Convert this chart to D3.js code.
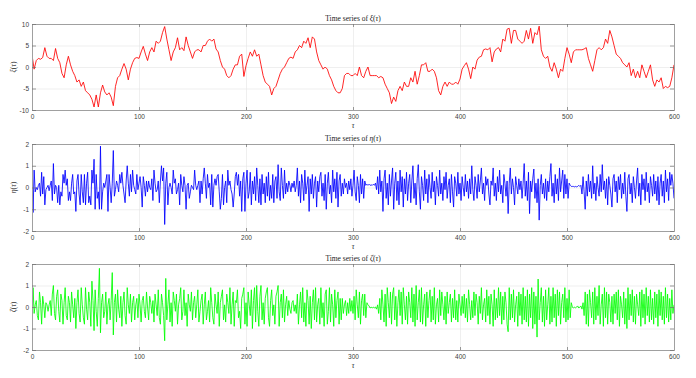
<!DOCTYPE html>
<html>
<head>
<meta charset="utf-8">
<script src="https://cdn.jsdelivr.net/npm/d3@7"></script>
<style>
  body { margin: 0; background: #fff; }
  #chart { width: 696px; height: 378px; }
  .tick text { font-family: "Liberation Sans", Arial, sans-serif; }
</style>
</head>
<body>
<div id="chart"></div>
<script>
// tau range and ticks
var TAU_MAX = 600;
var x_ticks = [0, 100, 200, 300, 400, 500, 600];

// xi(tau), sampled every 2
var xi_step = 2;
var xi = [
  2.8, -0.5, 1.5, 2, 1.8, 2.2, 4.5, 2.5, 2, 2,
  1.5, 4.3, 2, 1, -1.5, -2.5, 0.5, 2.5, 0.5, -1,
  -2, -3.5, -3, -4.5, -3.5, -5.5, -6, -6.5, -7.5, -9.3,
  -6.5, -9.3, -6, -4.2, -5.8, -6.5, -6, -7, -9, -4.5,
  -2.5, -2, -0.5, 0.8, -0.5, -3, -0.5, 1, 2, 2.2,
  2, 3.5, 4.8, 3, 1.5, 3.5, 4.5, 3.5, 6, 5.5,
  6, 8, 9.4, 6.5, 4, 1.5, 3.5, 4.5, 6.8, 4,
  4.5, 3.8, 7, 5, 3.5, 2, 3.5, 4, 4, 3.5,
  5, 5, 6, 6.5, 6, 6.5, 4.2, 3.5, 1.5, 0,
  -0.5, -2, -2.5, -2, -0.5, 0.5, 0.5, 2.5, 3, -2.2,
  0.3, 2, 3.5, 2.5, 4, 2.5, 3, 0.5, -2, -3.5,
  -4, -4.5, -6.5, -5, -4.5, -3, -1.5, -0.5, 0, 1,
  2, 2.3, 2, 3.5, 4, 5, 4.5, 6, 5.5, 6.8,
  4.5, 7, 6.5, 3.5, 1.5, 0.5, -0.5, 0, -0.5, -2,
  -3, -4.5, -5.5, -6, -6, -5, -2, -1.5, -1.5, -2,
  -2, -1.5, -2, 0, -2, -2.5, -1, 0, -2, -2,
  -2, -2, -2.5, -2.2, -2.5, -4, -5, -6, -8.5, -7,
  -8, -5.5, -4.5, -5.5, -3.5, -4.5, -4.5, -2.5, -3.5, -1,
  -4, -2, 0.5, 0.5, 1, -1, -1, -0.5, -1, -2.5,
  -5.5, -6.5, -4.5, -3.5, -4.5, -3.5, -4, -4, -3.5, -4,
  -2.8, -0.5, 0.3, 1, -0.5, -2.7, 0, -0.5, 1.6, 2.3,
  2.5, 4, 4.2, 4, 4.5, 1.2, 3.5, 4.2, 4.5, 3.5,
  6.5, 6, 8.8, 9, 5.5, 8.5, 8.5, 6.5, 6, 5.5,
  6, 8.5, 6.5, 9, 5.5, 8, 7.5, 9.5, 4, 2.5,
  2, 2.5, 0, -1, 1, -0.5, -2.5, -0.5, -1, 2,
  4.5, 3, 1, 3.5, 4, 4, 4, 4, 4.2, 4.5,
  2, 0.5, -1, 1.5, 4, 4.5, 4, 4.5, 6.5, 5.5,
  8.5, 7, 5, 3, 2.5, 2, 1, 0.5, 0, 1,
  -2, -0.5, -2.5, -1, -2.5, 0.5, -1, -2.5, -1, 0.5,
  -3, -4.5, -3, -3.5, -2.5, -5, -4.5, -4.8, -4.5, -2.5,
  0.5
];
var xi_ticks = [-10, -5, 0, 5, 10];

// eta(tau), sampled every 1
var eta_step = 1;
var eta = [
  0.9, -1.15, 0.8, -0.2, 0, -0.1, 0.1, 0.2, -0.4, 0.7, -0.3, 0.5, -0.8, -0.1, 0, 0.1, -0.15, 0.1, 0.3, -0.6,
  1.1, -0.3, 0.1, 0, -0.7, 0.1, -0.8, -0.2, -0.4, 0.6, 0.2, 0.8, 0.1, 0.4, -0.6, -0.2, -0.6, 0.2, 0.6, -0.3,
  -0.2, -1.1, 0.3, 0.6, -0.3, -0.8, 0.6, -0.2, -0.7, 0.6, -0.8, 0.2, 0.7, -0.7, -0.4, -0.8, 0.8, 0.2, 1.3, -1.0,
  0.6, -0.5, -0.2, -1.0, 1.9, -1.0, -0.2, 0.2, 0, 0.3, 0.6, -1.1, 0.6, 0, -0.7, 0.2, 1.7, -0.4, -0.1, 0.3,
  0.1, -0.2, 0.6, 0.2, 0.7, 0.1, -0.3, -0.7, 0.3, 1.0, 0.2, -0.4, 0.6, -0.2, 0.8, 0.1, -0.1, -0.3, 0.6, -0.1,
  0.2, 0.5, 0, -0.9, 0.5, 0.1, -0.4, 0.3, -0.2, 0.3, 0, -0.1, 0.4, -0.6, 0.8, 0.2, -0.2, -0.1, 0.3, -0.7,
  0.3, 1.0, 0.3, 0.9, -1.7, 0.2, 0.7, -0.8, 0, 0.2, 0, -0.3, 0.8, 0.2, 0.4, -0.3, -0.1, 0.2, -0.8, 0.6,
  0.1, -0.2, 0.5, 0.1, -1.0, 0.1, 0.2, -0.5, -0.2, 0.1, 0, -0.1, 0.8, 0.1, -0.1, 0.1, 0.3, -0.7, 0.3, -0.3,
  0.4, 0.9, 0.2, -0.5, 0.6, 0, 0.2, -0.8, 0.6, -0.9, 0.1, 0.4, 0.1, 0.5, 0.6, -0.2, -1.0, -0.5, 0.6, -0.8,
  0, 0.3, -0.7, 0.8, 0.1, 0.3, -0.1, -0.3, -0.9, -0.3, 0.5, 0.7, 0.1, 0.6, -0.4, 0.3, -1.1, 0.4, 0.7, -1.1,
  0.2, 0.8, -0.5, -0.2, 0.7, -0.8, 0.3, -0.3, 0.5, -0.6, 0.9, 0.1, -0.7, 0.4, -0.8, 0.6, -0.3, 0.2, -0.7, 0.5,
  -0.4, 0.7, -0.6, 0.1, -0.5, 0.6, -0.7, 0.3, 0.5, -0.5, 1.05, -0.2, -0.6, 0.9, 0.1, -0.5, 0.8, -0.3, 0.2, -0.2,
  0.3, 0.1, -0.2, 0.2, 0, 0.3, -0.2, 0.1, 0.9, -0.4, 0.3, -0.7, 0.6, 0.2, -0.6, 0.8, -0.3, 0.1, 0.5, -1.1,
  0.4, -0.3, 0.6, -0.5, 0.2, 0.5, -0.9, 0.3, -0.2, 0.5, 0.7, -0.4, 0.2, -0.6, 0.6, -1.0, 0.2, 0.7, -0.3, 0.1,
  -0.7, 0.8, -0.2, 0.4, -0.5, 0.7, -0.9, 0.3, 0.6, -0.4, 0.2, -0.3, 0.4, 0, 0.2, -0.3, 0.3, -0.1, 0.4, -0.4,
  0.1, 0.8, -0.2, -0.6, 0.5, 0.1, -0.7, 0.6, -0.3, 0.4, -0.5, 0.3, 0.1, 0.15, 0.1, 0.15, 0.1, 0.12, 0.1, 0.15,
  0.1, 0.2, -0.1, 0.5, -0.3, 0.8, -0.2, 0.3, -1.1, 0.4, 0.8, -0.5, 0.2, -0.8, 0.6, -0.4, 0.3, 0.9, -1.0, 0.2,
  0.7, -0.6, 0.3, -0.8, 0.8, -0.2, 0.5, -0.9, 0.4, -0.3, 0.7, -0.6, 0.2, 0.6, -0.7, 0.3, 1.0, -0.5, 0.2, -0.8,
  0.4, 1.05, -0.2, -1.0, 0.5, 0.1, -0.6, 0.8, -0.3, 0.4, -0.7, 0.6, 0, -0.5, 0.7, -0.2, 0.3, -0.8, 0.5, 0.1,
  -0.4, 0.8, -0.3, 0.2, -0.6, 0.5, -0.1, 0.7, -0.5, 0.1, 0.4, -0.7, 0.6, -0.2, -0.9, 0.5, 0.2, -0.4, 0.7, -0.3,
  0.2, -0.6, 0.5, 0, -0.4, 0.6, -0.2, 0.3, -0.5, 0.4, -0.3, 1.0, -0.1, -0.6, 0.5, 0.1, -0.5, 0.6, -0.2, 0.3,
  0.9, -0.3, 0.2, -0.6, 0.5, 0.1, 0.4, -0.3, -0.8, 0.3, 0.1, 0.9, -0.4, 0.2, -0.6, 0.5, -0.2, 0.8, -0.3, 0.1,
  -0.7, 0.6, 0.2, -0.4, 0.3, -1.2, 0.2, 0.9, -0.3, 0.4, 0, -0.8, 0.5, 0.1, -0.3, 0.4, -0.1, 0.3, -0.5, 0.2,
  1.1, -0.4, 0.3, -0.6, 0.7, -1.2, 0.3, -0.2, 0.4, 0.85, -0.5, 0.2, -0.7, 0.4, -1.5, 0.1, 0.6, -0.3, 0.2, -0.5,
  0.4, -0.6, 0.3, -0.2, 0.5, 1.1, -0.4, 0.2, -0.7, 0.6, -0.3, 0.4, -0.6, 0.9, -0.2, 0.3, 0.8, -0.5, 0.6, -0.3,
  0.4, -0.5, 0.2, 0.1, 0.05, 0.05, 0.05, 0.03, 0.05, 0.03, 0.05, 0.1, 0.05, 0.1, -0.3, 0.5, -0.2, -1.0, 0.3, -0.4,
  0.6, -0.2, 0.3, -0.5, 1.0, -0.3, 0.2, -0.6, 0.5, 0, -0.4, 0.6, -0.2, 1.05, -0.1, 0.3, -0.5, 0.4, -0.8, 0.5,
  0.1, -0.3, -0.9, 0.4, 0.6, -0.2, 0.3, -0.7, 0.5, -0.1, 0.6, -0.5, 0.2, -0.3, 0.7, -0.4, -1.1, 0.4, 0.6, -0.3,
  0.2, -0.7, 0.5, 0, -0.5, 0.3, 0.9, -0.4, 0.2, -0.8, 0.6, -0.1, 0.4, -0.6, 0.7, -0.2, 0.2, -0.7, 0.5, 0.1,
  -0.4, 0.6, -0.3, 0.3, -0.6, 0.5, -0.8, 0.2, 0.6, -0.4, 0.3, -0.7, 0.8, -0.2, 0.4, -0.6, 0.7, 0.1, 0.6, 0.2,
  -0.5
];
var eta_ticks = [-2, -1, 0, 1, 2];

// zeta(tau), sampled every 1
var zeta_step = 1;
var zeta = [
  -1.1, 0.9, -0.3, 0.1, 0.3, -0.4, -0.6, 0.7, 0.2, -0.8, 0.5, 0.1, -0.5, 0.2, 0.1, -0.2, 0.1, 0.3, -0.4, 0.6,
  1.0, -0.3, -0.6, 0.5, 0.8, -0.2, -0.7, 0.6, 0.3, -0.8, 0.2, 0.9, -0.4, -0.6, 0.5, 0.2, -0.7, 0.7, 0.1, -0.5,
  0.4, -1.0, 0.2, 0.8, -0.3, -0.7, 0.9, 0.1, -0.5, -0.8, 0.9, -0.1, -0.6, 0.7, 0.2, -0.9, 1.2, 0.3, -1.1, 0.8,
  -0.2, -0.9, 0.4, 1.8, -1.2, 0.2, 0.6, -0.5, -0.2, 0.7, -0.8, 0.1, 0.4, -0.6, 0.3, 1.6, -1.3, 0.2, 0.6, -0.7,
  0.8, -0.1, -0.5, 0.5, -0.9, 0.2, 0.7, -0.4, -0.8, 0.9, 0.1, -0.3, 0.6, -0.7, 0.2, 0.5, -0.6, 0.1, 0.4, -0.5,
  0.6, 0.1, -0.7, 0.3, 0.5, -0.2, -0.5, 0.7, 0, -0.6, 0.5, 0.2, -0.3, 0.3, -0.7, 0.6, 0.1, -0.4, 0.8, -0.5,
  -0.8, 0.6, 0.2, -0.4, -1.57, 1.33, -0.6, 0.1, 0.8, -0.7, 0.2, -0.9, 0.7, 0.3, -0.2, 0.6, -0.8, 0.1, 0.4, 0.9,
  -0.6, -0.2, 0.8, -0.4, 0.2, -0.9, 0.6, 0.1, -0.2, 0.7, -0.6, 0.2, 0.5, -0.5, 0.1, 0.8, -0.7, -0.2, 0.3, 0.6,
  -0.8, 0.1, 0.7, -0.6, -0.2, 0.3, -0.7, 0.9, 0.2, -0.5, -0.8, 0.6, 0.1, -0.3, 0.7, -0.9, 0.2, 0.5, 0.8, -0.6,
  0.1, -0.7, 0.6, 0.2, -0.3, 0.9, -0.8, 0.1, 0.7, -0.9, 0.3, 0.2, 0.8, -0.5, -0.2, -1.0, 0.4, 0.6, 0.9, -0.8,
  0.2, -0.9, 0.7, 0.1, -0.4, 0.8, -1.0, 0.3, 0.9, -0.7, 1.0, -0.2, -0.9, 0.5, 1.0, -0.6, 0.2, -0.8, 0.4, 0.7,
  0.9, -0.5, -0.9, 0.3, 0.8, -0.4, 0.1, -0.8, 0.5, 0.7, 1.0, -0.9, 0.2, 0.6, -0.5, 0.8, -0.7, 0.1, 0.5, -0.4,
  0.3, -0.1, -0.3, 0.2, 0.3, -0.2, 0.1, -0.3, 0.6, -0.8, 0.1, 0.7, -0.5, 0.9, -0.7, 0.2, -0.9, 0.8, 0.3, -0.8,
  0.5, -1.0, 0.2, 0.8, -0.6, 0.9, -0.7, 0.1, 0.4, -0.8, 0.9, -0.5, 0.2, -0.9, 0.6, 0.8, -0.8, -0.2, 0.9, -0.7,
  0.6, 0.1, -0.9, 0.8, -0.5, 0.3, 0.7, -0.8, 0.4, -0.6, 0.4, -0.3, 0.1, 0.3, -0.4, 0.2, -0.3, 0.4, -0.2, 0.3,
  -0.3, 0.5, -0.6, 0.8, 0.1, -0.5, 0.7, -0.8, 0.3, 0.6, -0.4, 0.6, -0.5, 0.2, 0.1, 0.05, -0.05, 0, -0.05, 0,
  -0.05, 0, -0.1, 0.1, -0.3, 0.4, -0.6, 0.8, 0.1, -0.7, 0.6, -0.9, 0.9, 0.2, -0.5, 0.7, -0.8, 0.6, 0.9, -0.6,
  0.5, -0.9, 0.2, 0.8, -0.4, 0.7, -0.8, 0.9, 0.1, -0.6, 0.5, -0.8, 0.7, 0.2, -0.5, 0.9, -0.7, 0.6, -0.9, 1.0,
  -0.6, 0.2, 0.8, -0.7, 0.9, -0.8, 0.1, 0.6, -0.9, 0.7, -0.5, 0.3, 0.8, -0.7, 0.5, -0.6, 0.9, -0.8, 0.1, 0.4,
  -0.7, 0.8, -0.4, 0.7, 0.1, -0.6, 0.5, -0.8, 0.7, -0.3, 0.2, 0.6, -0.7, 0.4, -0.5, 0.8, -0.6, 0.3, -0.7, 0.6,
  0.1, -0.4, 0.5, -0.3, 0.6, -0.5, 0.4, -0.7, 0.8, 0.1, -0.6, 0.3, -0.5, 0.7, -0.4, 0.6, 0.2, -0.8, 0.5, -0.3,
  0.9, -0.6, 0.1, 0.4, -0.7, 0.8, -0.4, 0.5, -0.8, 0.6, 0.1, -0.9, 0.8, -0.6, 0.4, -0.5, 0.9, -0.4, 0.7, -0.8,
  0.5, -0.6, 0.7, 0.2, -0.8, -1.15, 0.9, -0.6, 0.6, -0.5, 0.8, -0.7, 0.1, 0.5, -0.9, 0.7, -0.4, 0.6, -0.8, 0.9,
  -0.6, 0.5, -0.7, 0.8, -0.9, 0.6, -0.5, 0.9, -1.0, 0.7, -0.8, 0.5, -1.4, 1.3, -0.6, 0.2, 0.9, -0.7, 0.5, -0.9,
  0.8, -0.6, 0.1, 0.9, -0.8, 0.5, -0.7, 0.9, -0.5, 0.6, -0.9, 0.8, -0.4, 0.7, -0.8, 0.2, 0.6, -0.5, 0.9, -0.7,
  0.4, -0.6, 0.8, -0.5, 0.2, 0, -0.05, 0, -0.05, 0, 0.05, -0.05, 0, 0.05, -0.1, 0.2, -0.4, 0.7, -0.8, 0.6,
  -0.9, 0.8, 0.2, -0.5, 0.7, -0.8, 0.9, -0.6, 0.5, -0.4, 1.0, -0.8, 0.1, 0.6, -0.9, 0.9, -0.5, 0.7, -0.8, 0.6,
  0.2, -0.7, 0.5, -0.8, 0.6, -0.3, 0.7, -0.6, 0.8, -0.9, 0.5, 0.1, -0.5, 0.7, -0.8, 0.4, -1.0, 0.9, -0.6, 0.6,
  -0.4, 0.8, -0.7, 0.5, -0.8, 0.6, 0.1, -0.4, 0.7, -0.9, 0.8, -0.5, 0.6, -0.8, 0.9, -0.4, 0.5, -0.7, 0.8, -0.6,
  0.4, -0.8, 0.7, -0.5, 0.6, -0.9, 0.8, -0.4, 0.7, -0.6, 0.5, -0.8, 0.9, -0.5, 0.6, -0.7, 0.4, -0.6, 0.8, -0.3,
  0.1
];
var zeta_ticks = [-2, -1, 0, 1, 2];

var symbols = ["ξ", "η", "ζ"];


function draw_chart() {
    const WIDTH = 696;
    const HEIGHT = 378;
    const LEFT = 32;
    const RIGHT = 674;
    const LINE_SIZE = 0.85;
    const BOX_COLOR = "#a0a0a0";
    const GRID_COLOR = "#e4e4e4";
    const TEXT_COLOR = "#404040";
    const SERIF = "'Liberation Serif', 'DejaVu Serif', serif";

    var svg = d3.select("#chart")
        .append("svg")
            .attr("width", WIDTH)
            .attr("height", HEIGHT);

    svg.append("rect")
        .attr("width", WIDTH)
        .attr("height", HEIGHT)
        .attr("fill", "white");

    var x = d3.scaleLinear()
        .domain([0, TAU_MAX])
        .range([LEFT, RIGHT]);

    function draw_panel(id, values, step, y_ticks, color, top, bottom, sym) {
        var y = d3.scaleLinear()
            .domain([y_ticks[0], y_ticks[y_ticks.length - 1]])
            .range([bottom, top]);

        var g = svg.append("g");

        // grid
        g.append("g")
            .attr("transform", "translate(0," + bottom + ")")
            .call(d3.axisBottom(x).tickValues(x_ticks).tickSize(-(bottom - top)).tickFormat(""))
            .call(a => a.select(".domain").remove())
            .call(a => a.selectAll("line").attr("stroke", GRID_COLOR).attr("stroke-width", 0.6));
        g.append("g")
            .attr("transform", "translate(" + LEFT + ",0)")
            .call(d3.axisLeft(y).tickValues(y_ticks).tickSize(-(RIGHT - LEFT)).tickFormat(""))
            .call(a => a.select(".domain").remove())
            .call(a => a.selectAll("line").attr("stroke", GRID_COLOR).attr("stroke-width", 0.6));

        g.append("clipPath")
            .attr("id", "clip" + id)
            .append("rect")
                .attr("x", LEFT)
                .attr("y", top)
                .attr("width", RIGHT - LEFT)
                .attr("height", bottom - top);

        var line = d3.line()
            .x(function (d, i) { return x(i * step); })
            .y(function (d) { return y(d); });

        g.append("path")
            .attr("d", line(values))
            .attr("clip-path", "url(#clip" + id + ")")
            .attr("fill", "none")
            .attr("stroke", color)
            .attr("stroke-width", LINE_SIZE)
            .attr("stroke-linejoin", "round");

        // box with inward ticks
        var fmt = function (d) { return String(d); };
        var ax_b = g.append("g")
            .attr("transform", "translate(0," + bottom + ")")
            .call(d3.axisBottom(x).tickValues(x_ticks).tickSize(-3).tickPadding(4).tickFormat(fmt));
        var ax_t = g.append("g")
            .attr("transform", "translate(0," + top + ")")
            .call(d3.axisTop(x).tickValues(x_ticks).tickSize(-3).tickFormat(""));
        var ax_l = g.append("g")
            .attr("transform", "translate(" + LEFT + ",0)")
            .call(d3.axisLeft(y).tickValues(y_ticks).tickSize(-4).tickPadding(3).tickFormat(fmt));
        var ax_r = g.append("g")
            .attr("transform", "translate(" + RIGHT + ",0)")
            .call(d3.axisRight(y).tickValues(y_ticks).tickSize(-4).tickFormat(""));

        [ax_b, ax_t, ax_l, ax_r].forEach(function (a) {
            a.select(".domain").attr("stroke", BOX_COLOR).attr("stroke-width", 1);
            a.selectAll(".tick line").attr("stroke", "#707070").attr("stroke-width", 0.7);
            a.selectAll(".tick text")
                .attr("fill", TEXT_COLOR)
                .attr("font-size", 6.5);
        });

        // title
        var title = g.append("text")
            .attr("x", (LEFT + RIGHT) / 2)
            .attr("y", top - 3)
            .attr("text-anchor", "middle")
            .attr("font-family", SERIF)
            .attr("font-size", 7.5)
            .attr("fill", "#222");
        title.append("tspan").text("Time series of ");
        title.append("tspan").attr("font-style", "italic").text(sym);
        title.append("tspan").text("(");
        title.append("tspan").attr("font-style", "italic").text("τ");
        title.append("tspan").text(")");

        // x label
        g.append("text")
            .attr("x", (LEFT + RIGHT) / 2)
            .attr("y", bottom + 18)
            .attr("text-anchor", "middle")
            .attr("font-family", SERIF)
            .attr("font-style", "italic")
            .attr("font-size", 7.5)
            .attr("fill", "#333")
            .text("τ");

        // y label
        var ylab = g.append("text")
            .attr("transform", "translate(16," + (top + bottom) / 2 + ") rotate(-90)")
            .attr("text-anchor", "middle")
            .attr("font-family", SERIF)
            .attr("font-size", 7.5)
            .attr("fill", "#333");
        ylab.append("tspan").attr("font-style", "italic").text(sym);
        ylab.append("tspan").text("(");
        ylab.append("tspan").attr("font-style", "italic").text("τ");
        ylab.append("tspan").text(")");
    }

    draw_panel(0, xi, xi_step, xi_ticks, "#ff0000", 24, 110, symbols[0]);
    draw_panel(1, eta, eta_step, eta_ticks, "#0000ff", 144, 231, symbols[1]);
    draw_panel(2, zeta, zeta_step, zeta_ticks, "#00ff00", 264, 350, symbols[2]);
}

draw_chart();
</script>
</body>
</html>
